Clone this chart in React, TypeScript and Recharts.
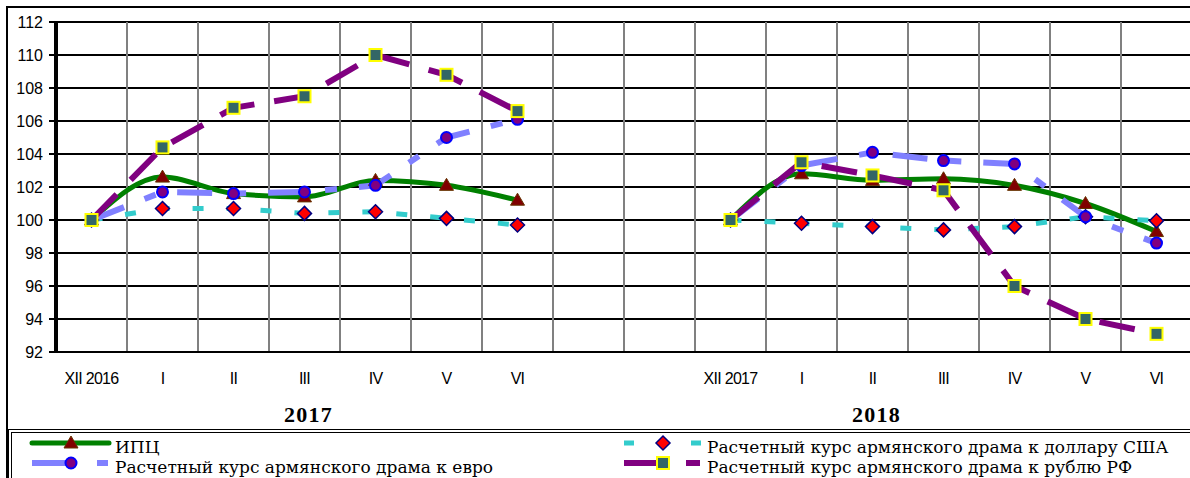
import React from "react";
import {
  LineChart,
  Line,
  XAxis,
  YAxis,
  CartesianGrid,
} from "recharts";

// categories (two gap slots between the two half-years)
const MONTHS = [
  "XII 2016", "I", "II", "III", "IV", "V", "VI", "", "",
  "XII 2017", "I", "II", "III", "IV", "V", "VI",
];
const YEARS = ["", "", "", "2017", "", "", "", "", "", "", "", "2018", "", "", "", ""];

const CPI = [100, 102.6, 101.6, 101.4, 102.4, 102.1, 101.2, null, null, 100, 102.8, 102.4, 102.5, 102.1, 101.0, 99.3];
const USD = [100, 100.7, 100.7, 100.4, 100.5, 100.1, 99.7, null, null, 100, 99.8, 99.6, 99.4, 99.6, 100.2, 99.95];
const EUR = [100, 101.7, 101.6, 101.7, 102.1, 105.0, 106.1, null, null, 100, 103.3, 104.1, 103.6, 103.4, 100.2, 98.6];
const RUB = [100, 104.4, 106.8, 107.5, 110.0, 108.8, 106.6, null, null, 100, 103.5, 102.7, 101.8, 96.0, 94.0, 93.1];

const Y_TICKS = [92, 94, 96, 98, 100, 102, 104, 106, 108, 110, 112];

const data = MONTHS.map((m, i) => ({
  month: m,
  cpi: CPI[i],
  usd: USD[i],
  eur: EUR[i],
  rub: RUB[i],
}));

const Triangle = ({ cx, cy }: any) =>
  cx == null || cy == null ? null : (
    <path
      d={`M${cx},${cy - 7} L${cx + 7},${cy + 5} L${cx - 7},${cy + 5} Z`}
      fill="#800000"
      stroke="#663300"
      strokeWidth={1}
    />
  );

const Diamond = ({ cx, cy }: any) =>
  cx == null || cy == null ? null : (
    <path
      d={`M${cx},${cy - 7} L${cx + 7},${cy} L${cx},${cy + 7} L${cx - 7},${cy} Z`}
      fill="#ff0000"
      stroke="#000080"
      strokeWidth={1.5}
    />
  );

const Circle = ({ cx, cy }: any) =>
  cx == null || cy == null ? null : (
    <circle cx={cx} cy={cy} r={5.5} fill="#800080" stroke="#0000ff" strokeWidth={2} />
  );

const Square = ({ cx, cy }: any) =>
  cx == null || cy == null ? null : (
    <rect x={cx - 6} y={cy - 6} width={12} height={12} fill="#336666" stroke="#ffff00" strokeWidth={2} />
  );

const SERIES = [
  { key: "cpi", name: "ИПЦ", color: "#008000", width: 5, dash: undefined, legendDash: undefined, Dot: Triangle, type: "monotone" },
  { key: "usd", name: "Расчетный курс армянского драма к доллару США", color: "#33cccc", width: 5, dash: "11 23", legendDash: "10 57 10", Dot: Diamond, type: "linear" },
  { key: "eur", name: "Расчетный курс армянского драма к евро", color: "#8080ff", width: 6, dash: "35 22 12 22", legendDash: "35 30 11", Dot: Circle, type: "linear" },
  { key: "rub", name: "Расчетный курс армянского драма к рублю РФ", color: "#800080", width: 6, dash: "36 20", legendDash: "34 28 14", Dot: Square, type: "linear" },
];

// legend slots: [column x, row y] per series
const LEGEND_POS: Record<string, [number, number]> = {
  cpi: [32, 443],
  eur: [32, 463],
  usd: [624, 443],
  rub: [624, 463],
};

const MonthTick = ({ x, y, payload }: any) => (
  <text
    x={x}
    y={y + 32}
    textAnchor="middle"
    fontSize={16}
    letterSpacing={-0.7}
    fontFamily="'Liberation Sans', Arial, sans-serif"
    fill="#000"
  >
    {payload.value}
  </text>
);

const YearTick = ({ x, y, index }: any) =>
  YEARS[index] ? (
    <text
      x={x + 4}
      y={y + 34}
      textAnchor="middle"
      fontSize={22}
      fontWeight="bold"
      letterSpacing={1.2}
      fontFamily="'Liberation Serif', 'Times New Roman', serif"
      fill="#000"
    >
      {YEARS[index]}
    </text>
  ) : null;

export default function App() {
  return (
    <div style={{ position: "absolute", left: 0, top: 0, width: 1190, height: 478, overflow: "hidden", background: "#fff" }}>
      {/* outer frame */}
      <div style={{ position: "absolute", left: 6, top: 6, width: 1300, height: 600, borderLeft: "2px solid #000", borderTop: "2px solid #000" }} />
      <LineChart
        width={1192}
        height={428}
        data={data}
        margin={{ top: 22, right: 0, left: 0, bottom: 0 }}
        style={{ position: "absolute", left: 0, top: 0 }}
      >
        <CartesianGrid
          xAxisId="m"
          vertical={false}
          stroke="#000"
          strokeWidth={2}
          strokeOpacity={1}
        />
        <CartesianGrid
          xAxisId="m"
          horizontal={false}
          stroke="#808080"
          strokeWidth={2}
          verticalCoordinatesGenerator={({ offset }: any) =>
            MONTHS.map((_, i) => offset.left + ((i + 1) * offset.width) / MONTHS.length)
          }
        />
        <XAxis
          xAxisId="m"
          dataKey="month"
          interval={0}
          height={36}
          padding={{ left: 35.5, right: 35.5 }}
          tickSize={0}
          tickMargin={0}
          tickLine={false}
          axisLine={{ stroke: "#000", strokeWidth: 2 }}
          tick={<MonthTick />}
        />
        <XAxis
          xAxisId="y"
          dataKey="month"
          interval={0}
          height={40}
          padding={{ left: 35.5, right: 35.5 }}
          tickSize={0}
          tickMargin={0}
          tickLine={false}
          axisLine={false}
          tick={<YearTick />}
        />
        <YAxis
          width={56}
          domain={[92, 112]}
          ticks={Y_TICKS}
          interval={0}
          tickSize={7}
          tickMargin={6}
          axisLine={{ stroke: "#000", strokeWidth: 4 }}
          tickLine={{ stroke: "#000", strokeWidth: 2 }}
          tick={{ fill: "#000", fontSize: 16, fontFamily: "'Liberation Sans', Arial, sans-serif" }}
        />
        {SERIES.map((s) => (
          <Line
            key={s.key}
            xAxisId="m"
            type={s.type as any}
            dataKey={s.key}
            name={s.name}
            stroke={s.color}
            strokeWidth={s.width}
            strokeDasharray={s.dash}
            dot={<s.Dot />}
            activeDot={false}
            isAnimationActive={false}
          />
        ))}
      </LineChart>

      {/* legend box */}
      <div style={{ position: "absolute", left: 8, top: 429, width: 1300, height: 100, borderLeft: "4px double #000", borderTop: "4px double #000" }} />
      <svg width={1190} height={478} style={{ position: "absolute", left: 0, top: 0 }}>
        {SERIES.map((s) => {
          const [lx, ly] = LEGEND_POS[s.key];
          const D = s.Dot;
          return (
            <g key={s.key}>
              <line
                x1={lx}
                x2={lx + 77}
                y1={ly}
                y2={ly}
                stroke={s.color}
                strokeWidth={s.width}
                strokeDasharray={s.legendDash}
                strokeLinecap={s.legendDash ? "butt" : "round"}
              />
              <D cx={lx + 39} cy={ly} />
              <text
                x={lx + 83}
                y={ly + 10}
                fontSize={17}
                fontFamily="'DejaVu Serif', serif"
                fill="#000"
              >
                {s.name}
              </text>
            </g>
          );
        })}
      </svg>
    </div>
  );
}
